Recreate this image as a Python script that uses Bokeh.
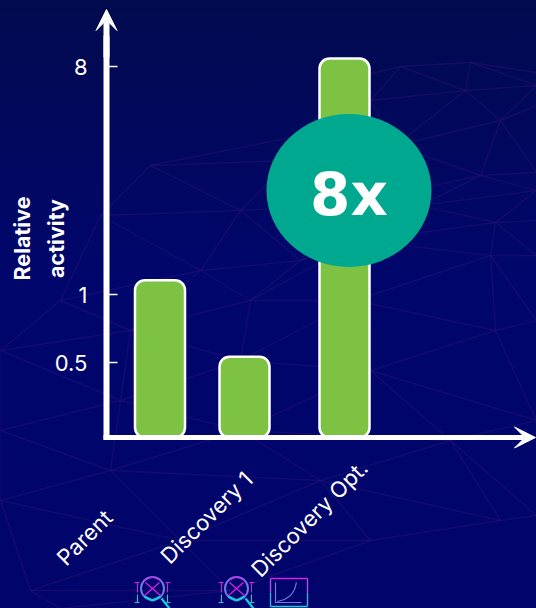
from bokeh.core.properties import value
from bokeh.embed import file_html
from bokeh.models import Arrow, ColumnDataSource, FixedTicker, LinearAxis, Range1d, VeeHead
from bokeh.plotting import figure
from bokeh.resources import INLINE
import numpy as np

# ---- data ----
categories = ["Parent", "Discovery 1", "Discovery Opt."]
activity = [1.14, 0.53, 8.6]
tick_values = [0.5, 1, 8]
tick_labels = ["0.5", "1", "8"]
fold_label = "8x"
y_label_lines = ["Relative", "activity"]

# ---- layout (the y axis is a broken scale: its ticks are not evenly spaced) ----
tick_heights = [75, 143, 371]
bar_x = [159.5, 244, 344]
bar_w = 50
label_x = [84, 206, 309]
label_h = [-100, -80, -81]

def to_axis(v):
    if v > 8:
        return tick_heights[-1] + (np.log2(v) - 3) * 76
    return float(np.interp(np.log2(v), np.log2(tick_values), tick_heights))

WHITE = "#ffffff"
p = figure(width=536, height=608, output_backend="svg", toolbar_location=None,
           x_range=Range1d(0, 536), y_range=Range1d(-171, 437),
           x_axis_type=None, y_axis_type=None, min_border=0,
           background_fill_color=None, border_fill_color=None, outline_line_color=None)
p.grid.visible = False

# ---- background mesh (decoration) ----
rows = [
    [(350, 78), (400, 66), (470, 62), (536, 72)],
    [(300, 135), (370, 100), (465, 90), (536, 85)],
    [(150, 165), (290, 160), (395, 145), (500, 120), (536, 105)],
    [(100, 215), (240, 210), (340, 205), (480, 175), (536, 172)],
    [(60, 300), (200, 270), (300, 260), (420, 205), (536, 190)],
    [(0, 350), (130, 330), (250, 300), (360, 240), (495, 222), (536, 220)],
    [(0, 430), (120, 400), (240, 360), (355, 300), (490, 255), (536, 255)],
    [(0, 500), (110, 470), (240, 430), (370, 370), (495, 330), (536, 320)],
    [(30, 590), (180, 540), (320, 480), (450, 440), (536, 420)],
    [(60, 608), (230, 590), (370, 540), (500, 520), (536, 515)],
]
mesh_x, mesh_y = [], []
for r in rows:
    mesh_x.append([a for a, _ in r])
    mesh_y.append([437 - b for _, b in r])
for r0, r1 in zip(rows[:-1], rows[1:]):
    for i, (a, b) in enumerate(r0):
        j = min(i, len(r1) - 1)
        mesh_x.append([a, r1[j][0]])
        mesh_y.append([437 - b, 437 - r1[j][1]])
        if j + 1 < len(r1):
            mesh_x.append([a, r1[j + 1][0]])
            mesh_y.append([437 - b, 437 - r1[j + 1][1]])
p.multi_line(mesh_x, mesh_y, line_color="#2a1478", line_width=1.4, line_alpha=0.45)

# ---- bars ----
src = ColumnDataSource(dict(x=bar_x, top=[to_axis(v) for v in activity], name=categories))
p.vbar(x="x", top="top", bottom=0, width=bar_w, source=src, fill_color="#7dc242",
       line_color=WHITE, line_width=2.5, border_radius=10)

# ---- axes ----
yaxis = LinearAxis(ticker=FixedTicker(ticks=tick_heights),
                   major_label_overrides={h: t for h, t in zip(tick_heights, tick_labels)},
                   fixed_location=106, bounds=(-2, 402),
                   axis_line_color=WHITE, axis_line_width=6,
                   major_tick_line_color=WHITE, major_tick_line_width=1.5,
                   major_tick_in=11, major_tick_out=0, minor_tick_line_color=None,
                   major_label_text_color=WHITE, major_label_text_font="Inter",
                   major_label_text_font_size="22px", major_label_standoff=19)
p.add_layout(yaxis, "left")
xaxis = LinearAxis(ticker=FixedTicker(ticks=[]), fixed_location=0, bounds=(103, 522),
                   axis_line_color=WHITE, axis_line_width=5,
                   major_tick_line_color=None, minor_tick_line_color=None)
p.add_layout(xaxis, "below")

head = dict(size=21, fill_color=WHITE, line_color=WHITE, line_width=1)
p.add_layout(Arrow(end=VeeHead(**head), x_start=106, y_start=380, x_end=106, y_end=428,
                   line_color=WHITE, line_width=6))
p.add_layout(Arrow(end=VeeHead(**head), x_start=480, y_start=0, x_end=535, y_end=0,
                   line_color=WHITE, line_width=5))

# ---- y axis title ----
p.text([21, 55], [437 - 238, 437 - 238], text=y_label_lines, angle=90, angle_units="deg",
       text_align="center", text_baseline="middle", text_color=WHITE, text_font=value("Inter"),
       text_font_style="bold", text_font_size="21.5px")

# ---- category labels ----
p.text(label_x, label_h, text=categories, angle=45, angle_units="deg", text_align="center",
       text_baseline="middle", text_color=WHITE, text_font=value("Inter"), text_font_size="22px")

# ---- 8x badge ----
p.ellipse(x=[348.5], y=[437 - 190], width=[165], height=[153], fill_color="#00a88f", line_color=None)
p.text([348.5], [437 - 194], text=[fold_label], text_align="center", text_baseline="middle",
       text_color=WHITE, text_font=value("DejaVu Sans"), text_font_style="bold", text_font_size="58px")

# ---- icons under the labels (decoration) ----
MAG, MID, CY = "#d71ee8", "#6f78e6", "#12cfe0"
for cx in (152, 236):
    y0 = 437 - 588
    p.scatter([cx], [y0], size=23, marker="circle", fill_color=None, line_color=MID, line_width=2)
    p.multi_line([[cx - 8, cx, cx + 8], [cx - 7, cx + 8], [cx + 7, cx - 8]],
                 [[y0 + 8, y0 + 12, y0 + 8], [y0 + 6, y0 - 7], [y0 + 6, y0 - 7]],
                 line_color=MAG, line_width=1.3)
    p.multi_line([[cx - 8, cx, cx + 8], [cx + 9, cx + 17]], [[y0 - 8, y0 - 12, y0 - 8], [y0 - 10, y0 - 20]],
                 line_color=CY, line_width=2.2)
    p.multi_line([[cx - 18, cx - 13], [cx - 15, cx - 15], [cx + 13, cx + 18], [cx + 15, cx + 15]],
                 [[y0 + 6, y0 + 6], [y0 + 6, y0 - 4], [y0 + 6, y0 + 6], [y0 + 6, y0 - 4]],
                 line_color=MAG, line_width=1)
    p.multi_line([[cx - 18, cx - 13], [cx - 15, cx - 15], [cx + 13, cx + 18], [cx + 15, cx + 15]],
                 [[y0 - 14, y0 - 14], [y0 - 14, y0 - 6], [y0 - 14, y0 - 14], [y0 - 14, y0 - 6]],
                 line_color=CY, line_width=1)
yb, yt = 437 - 606, 437 - 578
p.multi_line([[270, 307]], [[yt, yt]], line_color=MAG, line_width=1.4)
p.multi_line([[270, 270], [307, 307]], [[yt, yt - 14], [yt, yt - 14]], line_color="#b04ce6", line_width=1.4)
p.multi_line([[270, 270], [307, 307]], [[yt - 14, yb], [yt - 14, yb]], line_color="#40a8e4", line_width=1.4)
p.multi_line([[270, 307]], [[yb, yb]], line_color=CY, line_width=1.4)
p.multi_line([[275, 275, 301]], [[yt - 4, yb + 4, yb + 4]], line_color=MID, line_width=1.2)
p.multi_line([[277, 284, 290, 294, 296]], [[yb + 5, yb + 7, yb + 11, yb + 17, yb + 24]],
             line_color=MID, line_width=1.2)

template = """
{% block postamble %}<style>
html, body { height: 100%; overflow: hidden; margin: 0; background: linear-gradient(180deg, #020a4e 0%, #01066c 45%, #01056b 100%); background-attachment: fixed; }
</style>{% endblock %}
"""
open("out.html", "w").write(file_html(p, INLINE, template=template))
